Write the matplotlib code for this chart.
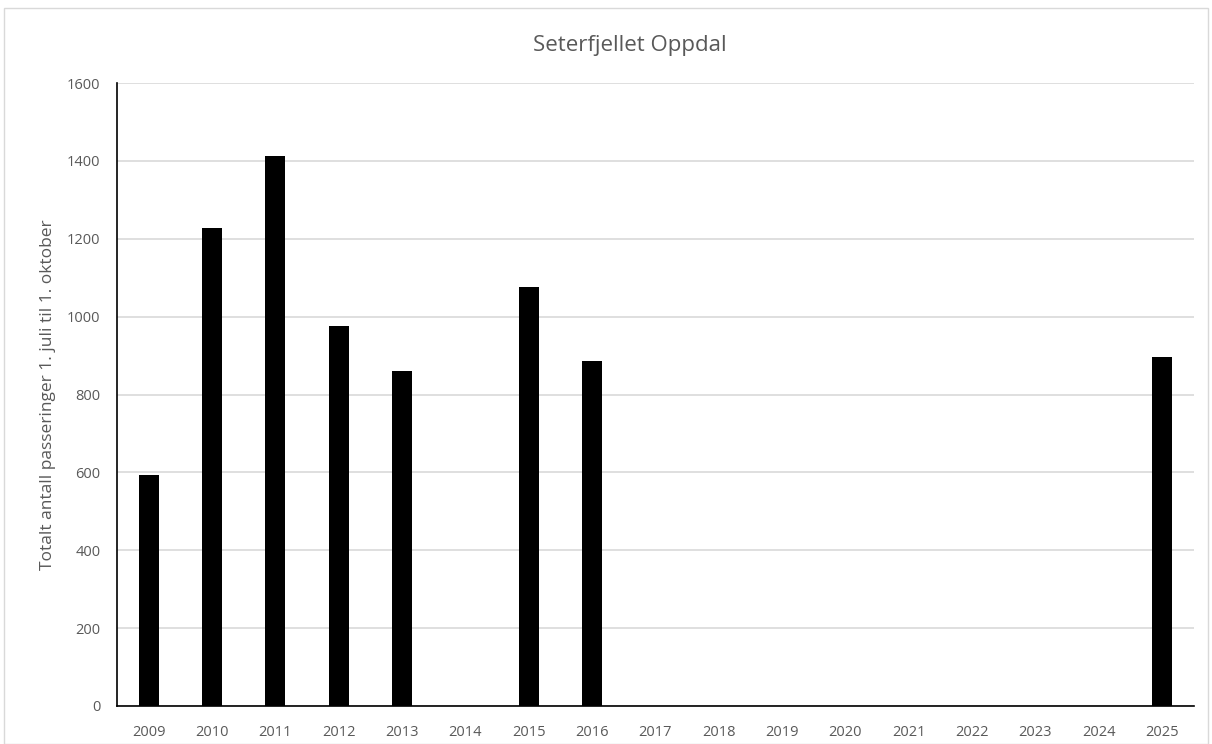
import matplotlib.pyplot as plt
from matplotlib.patches import Rectangle

years = ["2009", "2010", "2011", "2012", "2013", "2014", "2015", "2016", "2017",
         "2018", "2019", "2020", "2021", "2022", "2023", "2024", "2025"]
passages = [592, 1228, 1412, 977, 861, 0, 1077, 885, 0,
            0, 0, 0, 0, 0, 0, 0, 897]
y_ticks = [0, 200, 400, 600, 800, 1000, 1200, 1400, 1600]

plt.rcParams["font.family"] = ["Open Sans", "DejaVu Sans"]
label_color = "#595959"

fig = plt.figure(figsize=(12.12, 7.44), dpi=100)
ax = fig.add_axes([0.0965, 0.0511, 0.8885, 0.8373])

x = range(len(years))
ax.bar(x, passages, width=0.315, color="black", zorder=3)

ax.set_xlim(-0.5, len(years) - 0.5)
ax.set_ylim(0, 1600)
ax.set_yticks(y_ticks)
ax.set_xticks(list(x))
ax.set_xticklabels(years)
ax.tick_params(axis="both", length=0, colors=label_color, labelsize=10.5)
ax.tick_params(axis="x", pad=14)
ax.tick_params(axis="y", pad=12)
ax.grid(axis="y", color="#d9d9d9", linewidth=1.2, zorder=0)

for side in ["top", "right"]:
    ax.spines[side].set_visible(False)
ax.spines["left"].set_color("black")
ax.spines["bottom"].set_color("black")
ax.spines["left"].set_linewidth(1.2)
ax.spines["bottom"].set_linewidth(1.2)

ax.set_ylabel("Totalt antall passeringer 1. juli til 1. oktober",
              color=label_color, fontsize=12.5, labelpad=8)
fig.text(0.52, 0.939, "Seterfjellet Oppdal", ha="center", va="center",
         fontsize=16, color=label_color)

fig.patches.append(Rectangle((0.003, 0.0), 0.994, 0.989, transform=fig.transFigure,
                             fill=False, edgecolor="#d9d9d9", linewidth=1))

fig.savefig("out.png", dpi=100)
